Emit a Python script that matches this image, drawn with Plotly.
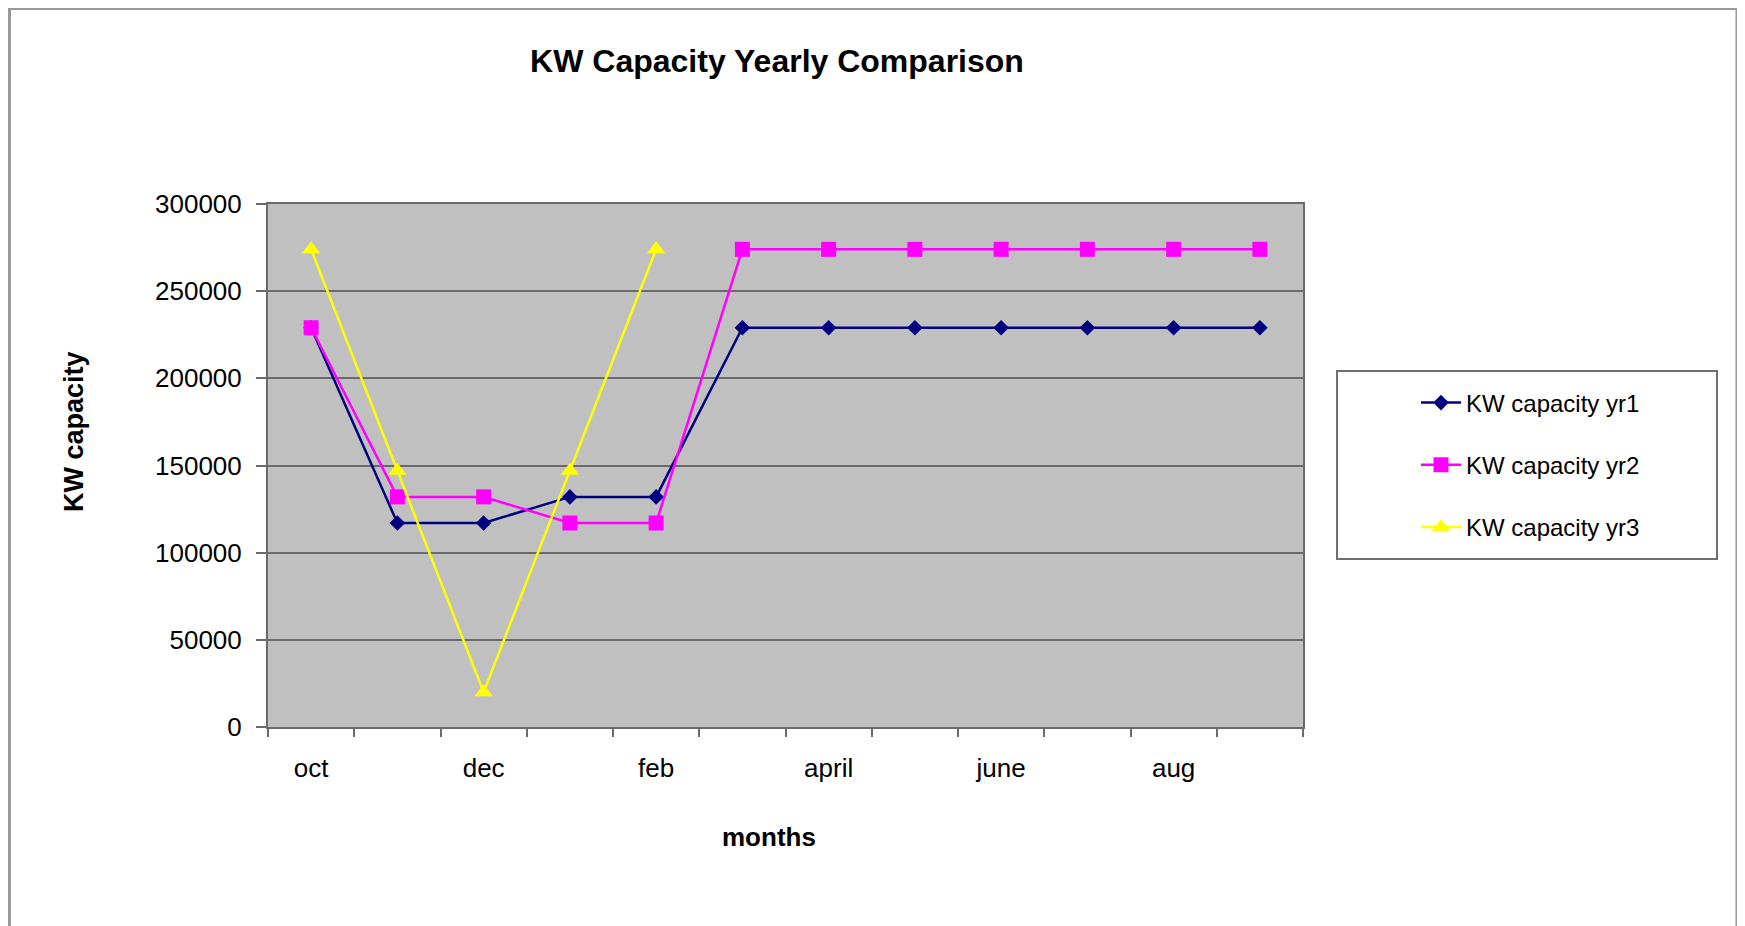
import plotly.graph_objects as go

months = ["oct", "nov", "dec", "jan", "feb", "march", "april", "may", "june", "july", "aug", "sept"]
yr1 = [229000, 117000, 117000, 132000, 132000, 229000, 229000, 229000, 229000, 229000, 229000, 229000]
yr2 = [229000, 132000, 132000, 117000, 117000, 274000, 274000, 274000, 274000, 274000, 274000, 274000]
yr3 = [274000, 147000, 20000, 147000, 274000, None, None, None, None, None, None, None]
y_ticks = [0, 50000, 100000, 150000, 200000, 250000, 300000]

series = [
    ("KW capacity yr1", yr1, "#000080", "diamond", 12),
    ("KW capacity yr2", yr2, "#FF00FF", "square", 15),
    ("KW capacity yr3", yr3, "#FFFF00", "triangle-up", 16),
]

xidx = list(range(len(months)))
fig = go.Figure()
for i, (name, vals, col, sym, sz) in enumerate(series):
    fig.add_trace(go.Scatter(
        x=xidx, y=vals, name=name, mode="lines+markers",
        line=dict(color=col, width=2.5),
        marker=dict(symbol=sym, size=sz, color=col),
        legendgroup=f"g{i}", connectgaps=False,
    ))

# figure coordinates (page is offset by the 8px body margin)
W, H = 1737, 918
L, R, T, B = 260, 1295, 196, 719
pw, ph = R - L, B - T

def px(x):
    return (x - L) / pw

def py(y):
    return (B - y) / ph

FONT = "Liberation Sans, Arial, sans-serif"

fig.update_layout(
    width=W, height=H,
    margin=dict(l=L, r=W - R, t=T, b=H - B, pad=0),
    paper_bgcolor="white",
    plot_bgcolor="#C0C0C0",
    font=dict(family=FONT, color="black", size=26),
    title=dict(text="<b>KW Capacity Yearly Comparison</b>", x=769 / W, xanchor="center",
               y=1 - 53 / H, yanchor="middle", font=dict(size=32, family=FONT, color="black")),
    showlegend=True,
    legend=dict(x=px(1408), xanchor="left", y=py(457), yanchor="middle",
                bgcolor="rgba(0,0,0,0)", borderwidth=0,
                font=dict(size=24, family=FONT, color="black"),
                tracegroupgap=28, itemwidth=40),
    xaxis=dict(
        range=[-0.5, len(months) - 0.5],
        tickmode="array", tickvals=xidx[::2], ticktext=months[::2],
        ticks="", showgrid=False, zeroline=False,
        showline=True, linecolor="#6a6a6a", linewidth=2, mirror=True,
        ticklabelstandoff=17,
        minor=dict(tickmode="array", tickvals=[v - 0.5 for v in range(len(months) + 1)],
                   ticks="outside", ticklen=8, tickcolor="#6a6a6a", tickwidth=2, showgrid=False),
        tickfont=dict(size=26, family=FONT, color="black"),
    ),
    yaxis=dict(
        range=[0, 300000], tickmode="array", tickvals=y_ticks,
        ticktext=[str(v) for v in y_ticks],
        ticks="outside", ticklen=10, tickcolor="#6a6a6a", tickwidth=2,
        showgrid=True, gridcolor="#6a6a6a", gridwidth=2, zeroline=False,
        showline=True, linecolor="#6a6a6a", linewidth=2, mirror=True,
        ticklabelstandoff=9,
        tickfont=dict(size=26, family=FONT, color="black"),
    ),
    annotations=[
        dict(text="<b>KW capacity</b>", x=px(66), y=py(424), xref="paper", yref="paper",
             textangle=-90, showarrow=False, xanchor="center", yanchor="middle",
             font=dict(size=27, family=FONT, color="black")),
        dict(text="<b>months</b>", x=px(761), y=py(829), xref="paper", yref="paper",
             showarrow=False, xanchor="center", yanchor="middle",
             font=dict(size=26, family=FONT, color="black")),
    ],
    shapes=[
        dict(type="rect", xref="paper", yref="paper",
             x0=px(1329), x1=px(1709), y0=py(551), y1=py(363),
             line=dict(color="#707070", width=2), fillcolor="white", layer="below"),
        dict(type="rect", xref="paper", yref="paper",
             x0=px(1.5), x1=px(1729), y0=py(960), y1=py(0.5),
             line=dict(color="#999999", width=3), fillcolor="rgba(0,0,0,0)", layer="below"),
    ],
)

fig.write_html("out.html")
